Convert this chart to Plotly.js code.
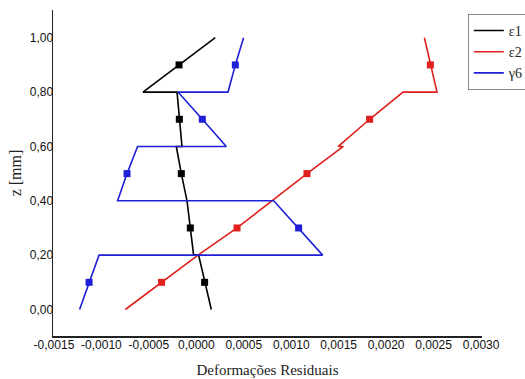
<!DOCTYPE html>
<html>
<head>
<meta charset="utf-8">
<script src="https://cdn.plot.ly/plotly-3.0.1.min.js"></script>
<style>html,body{margin:0;padding:0;background:#fff;}#chart{width:525px;height:379px;}</style>
</head>
<body>
<div id="chart"></div>
<script>
// Thickness positions (bottom, middle, top of each 0.2 mm layer)
var zPts = [0, 0.1, 0.2, 0.2, 0.3, 0.4, 0.4, 0.5, 0.6, 0.6, 0.7, 0.8, 0.8, 0.9, 1.0];
// Residual strains per layer point
var eps1 = [0.000158, 0.0000875, 0.0000242, -0.0000285, -0.0000632, -0.000098, -0.000098, -0.000158, -0.000211, -0.000151, -0.000179, -0.000203, -0.000562, -0.000182, 0.0002];
var eps2 = [-0.000748, -0.000366, 0.000018, 0.000018, 0.000429, 0.000796, 0.000796, 0.001166, 0.001549, 0.001496, 0.001826, 0.002178, 0.002536, 0.002466, 0.002403];
var gam6 = [-0.00123, -0.00113, -0.001025, 0.001331, 0.001078, 0.000815, -0.000829, -0.00073, -0.000619, 0.000316, 0.0000632, -0.000193, 0.000334, 0.000411, 0.000498];
var seriesNames = ['\u03b51', '\u03b52', '\u03b36'];
var xTickVals = [-0.0015, -0.001, -0.0005, 0, 0.0005, 0.001, 0.0015, 0.002, 0.0025, 0.003];
var xTickText = ['-0,0015', '-0,0010', '-0,0005', '0,0000', '0,0005', '0,0010', '0,0015', '0,0020', '0,0025', '0,0030'];
var yTickVals = [0, 0.2, 0.4, 0.6, 0.8, 1.0];
var yTickText = ['0,00', '0,20', '0,40', '0,60', '0,80', '1,00'];

var colors = ['#000000', '#e0201c', '#1f1fd8'];
var allSeries = [eps1, eps2, gam6];
var traces = [];
allSeries.forEach(function (s, i) {
  traces.push({
    x: s, y: zPts, type: 'scatter', mode: 'lines', name: seriesNames[i],
    legendgroup: 'g' + i, line: {color: colors[i], width: 1.6}
  });
});
allSeries.forEach(function (s, i) {
  var mx = [], my = [];
  for (var k = 1; k < s.length; k += 3) { mx.push(s[k]); my.push(zPts[k]); }
  traces.push({
    x: mx, y: my, type: 'scatter', mode: 'markers', showlegend: false,
    legendgroup: 'g' + i, marker: {symbol: 'square', size: 7, color: colors[i]}
  });
});

var layout = {
  width: 525, height: 379,
  margin: {l: 53, r: 43, t: 10, b: 43, autoexpand: false},
  paper_bgcolor: '#fff', plot_bgcolor: '#fff',
  showlegend: true,
  font: {family: 'Liberation Sans, Arial, sans-serif', size: 12, color: '#111'},
  xaxis: {
    range: [-0.00151, 0.00301], showgrid: false, zeroline: false,
    showline: true, linecolor: '#222', linewidth: 1.5, ticks: '',
    tickvals: xTickVals, ticktext: xTickText, ticklabelstandoff: -3,
    tickfont: {family: 'Liberation Sans, Arial, sans-serif', size: 12, color: '#111'},
    title: {text: 'Deforma\u00e7\u00f5es Residuais', standoff: 13,
      font: {family: 'Liberation Serif, Times New Roman, serif', size: 15, color: '#222'}}
  },
  yaxis: {
    range: [-0.0975, 1.102], showgrid: false, zeroline: false,
    showline: true, linecolor: '#222', linewidth: 1.5, ticks: '',
    tickvals: yTickVals, ticktext: yTickText, ticklabelstandoff: -4,
    tickfont: {family: 'Liberation Sans, Arial, sans-serif', size: 12, color: '#111'},
    title: {text: 'z [mm]', standoff: 4,
      font: {family: 'Liberation Serif, Times New Roman, serif', size: 16, color: '#222'}}
  },
  legend: {
    x: 0.967, y: 0.988, xanchor: 'left', yanchor: 'top',
    bgcolor: '#fff', bordercolor: '#888', borderwidth: 1,
    font: {family: 'Liberation Serif, Times New Roman, serif', size: 14, color: '#222'},
    tracegroupgap: 0
  }
};
Plotly.newPlot('chart', traces, layout, {displayModeBar: false, staticPlot: true});
</script>
</body>
</html>
